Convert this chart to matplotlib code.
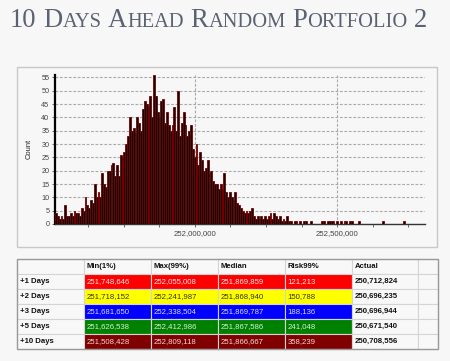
import matplotlib
matplotlib.use("Agg")
import matplotlib.pyplot as plt
import numpy as np
from matplotlib.patches import Rectangle
from matplotlib.ticker import FixedLocator, FuncFormatter

W, H = 450, 361

# ---- data -------------------------------------------------------------
x_min = 251508428
x_max = 252809118
counts = [
    4, 3, 2, 3, 2, 7, 3, 3, 4, 3,
    5, 4, 4, 3, 6, 5, 10, 7, 6, 9,
    8, 15, 10, 12, 10, 19, 15, 14, 20, 20,
    22, 23, 18, 22, 18, 26, 25, 27, 30, 33,
    40, 35, 36, 34, 40, 38, 35, 43, 46, 45,
    44, 48, 40, 56, 48, 42, 40, 46, 47, 38,
    42, 37, 35, 37, 44, 35, 50, 33, 38, 42,
    37, 33, 35, 37, 28, 25, 30, 22, 27, 24,
    20, 21, 24, 19, 20, 16, 15, 15, 13, 15,
    13, 19, 12, 10, 12, 10, 9, 12, 8, 7,
    6, 5, 4, 5, 4, 5, 6, 3, 2, 3,
    2, 3, 2, 3, 2, 3, 4, 2, 4, 3,
    2, 3, 1, 2, 1, 3, 1, 1, 0, 1,
    1, 0, 1, 0, 1, 1, 0, 0, 1, 0,
    0, 0, 0, 0, 1, 1, 0, 1, 1, 1,
    1, 0, 1, 0, 1, 0, 1, 1, 0, 1,
    1, 0, 0, 0, 1, 0, 0, 0, 0, 0,
    0, 0, 0, 0, 0, 0, 0, 1, 0, 0,
    0, 0, 0, 0, 0, 0, 0, 0, 1, 0,
    0, 0, 0, 0, 0, 0, 0, 0, 0, 0,
]
major_ticks = [252000000, 252500000]

row_labels = ["+1 Days", "+2 Days", "+3 Days", "+5 Days", "+10 Days"]
col_labels = ["Min(1%)", "Max(99%)", "Median", "Risk99%", "Actual"]
min1 = ["251,748,646", "251,718,152", "251,681,650", "251,626,538", "251,508,428"]
max99 = ["252,055,008", "252,241,987", "252,338,504", "252,412,986", "252,809,118"]
median = ["251,869,859", "251,868,940", "251,869,787", "251,867,586", "251,866,667"]
risk99 = ["121,213", "150,788", "188,136", "241,048", "358,239"]
actual = ["250,712,824", "250,696,235", "250,696,944", "250,671,540", "250,708,556"]
row_colors = ["#ff0000", "#ffff00", "#0000ff", "#008000", "#800000"]
row_text = ["#ffe8e8", "#333300", "#d8d8ff", "#d8f0d8", "#f0d8d8"]

BG = "#f7f7f7"
fig = plt.figure(figsize=(W / 100, H / 100), dpi=100, facecolor=BG)


def fx(px):
    return px / W


def fy(py):
    return 1 - py / H


# ---- title in small caps ------------------------------------------------
renderer = fig.canvas.get_renderer()
title_words = ["10", "Days", "Ahead", "Random", "Portfolio", "2"]
big, small = 19.2, 14.8
tcol = "#5b6272"
x = fx(10)
base = fy(27)
serif = "Liberation Serif"


def put(s, size, xpos):
    t = fig.text(xpos, base, s, fontsize=size, family=serif, color=tcol,
                 va="baseline", ha="left")
    return t.get_window_extent(renderer).width / W


sp = fig.text(0, 0, "a a", fontsize=big, family=serif)
w_sp = (sp.get_window_extent(renderer).width
        - 2 * fig.text(0, 0, "a", fontsize=big, family=serif)
        .get_window_extent(renderer).width) / W
for t in fig.texts[:]:
    t.remove()

for word in title_words:
    if word.isdigit():
        x += put(word, big, x)
    else:
        x += put(word[0], big, x)
        x += put(word[1:].upper(), small, x)
    x += w_sp

# ---- chart box --------------------------------------------------------
fig.patches.append(Rectangle((fx(17), fy(247)), fx(437) - fx(17), fy(67) - fy(247),
                             transform=fig.transFigure, facecolor=BG,
                             edgecolor="#c8c8c8", linewidth=1.0, zorder=-1))

ax = fig.add_axes([fx(55), fy(224), fx(425) - fx(55), fy(74.7) - fy(224)])
ax.set_zorder(5)
ax.set_facecolor("none")
edges = np.linspace(x_min, x_max, len(counts) + 1)
ax.bar(edges[:-1], counts, width=np.diff(edges), align="edge",
       color="#0a0000", edgecolor="#7a0000", linewidth=0.6, zorder=3)

ax.set_xlim(x_min, x_max)
ax.set_ylim(0, 56)
ax.set_yticks(range(0, 56, 5))
ax.xaxis.set_major_locator(FixedLocator(major_ticks))
ax.xaxis.set_major_formatter(FuncFormatter(lambda v, p: f"{v:,.0f}"))
minor = np.arange(251625000, x_max, 125000)
ax.xaxis.set_minor_locator(FixedLocator(minor))
ax.tick_params(axis="x", which="both", length=2.5, width=0.6, color="#555",
               labelsize=5.6, labelcolor="#444", pad=2)
ax.tick_params(axis="y", length=2.5, width=0.6, color="#555",
               labelsize=5.2, labelcolor="#444", pad=1.5)
for lab in ax.get_xticklabels() + ax.get_yticklabels():
    lab.set_family("Liberation Sans")
for s in ("top", "right"):
    ax.spines[s].set_visible(False)
ax.spines["left"].set_linewidth(1.6)
ax.spines["bottom"].set_linewidth(1.0)
ax.spines["bottom"].set_color("#333")
ax.grid(True, axis="y", linestyle=(0, (2.5, 1.5)), color="#aaaaaa", linewidth=0.8)
ax.grid(True, axis="x", which="major", linestyle=(0, (2.5, 1.5)), color="#aaaaaa",
        linewidth=0.8)
ax.set_axisbelow(True)
ax.set_ylabel("Count", fontsize=5.4, family="Liberation Sans", color="#222",
              labelpad=6)

# ---- table ------------------------------------------------------------
col_x = [17, 84, 151, 218, 285, 352, 418, 438]
row_y = [259, 274, 289, 304, 319, 334, 349]
value_cols = [min1, max99, median, risk99]


def cell(c, r, face, text=None, color="#000", weight="normal"):
    x0, x1 = col_x[c], col_x[c + 1]
    y0, y1 = row_y[r], row_y[r + 1]
    fig.patches.append(Rectangle((fx(x0), fy(y1)), fx(x1) - fx(x0), fy(y0) - fy(y1),
                                 transform=fig.transFigure, facecolor=face,
                                 edgecolor="#d4d4d4", linewidth=0.8, zorder=1))
    if text:
        fig.text(fx(x0 + 2.5), fy((y0 + y1) / 2 + 0.3), text, fontsize=5.6,
                 family="Liberation Sans", color=color, weight=weight,
                 va="center", ha="left", zorder=2)


cell(0, 0, "#f8f8f8")
for c, lab in enumerate(col_labels):
    cell(c + 1, 0, "#f8f8f8", lab, "#111", "bold")
cell(6, 0, "#f8f8f8")
for r, lab in enumerate(row_labels):
    cell(0, r + 1, "#f8f8f8", lab, "#111", "bold")
    for c, vals in enumerate(value_cols):
        cell(c + 1, r + 1, row_colors[r], vals[r], row_text[r])
    cell(5, r + 1, "#f8f8f8", actual[r], "#111", "bold")
    cell(6, r + 1, "#f8f8f8")
fig.patches.append(Rectangle((fx(17), fy(349)), fx(438) - fx(17), fy(259) - fy(349),
                             transform=fig.transFigure, facecolor="none",
                             edgecolor="#999999", linewidth=1.0, zorder=3))

fig.savefig("out.png", dpi=100, facecolor=BG)
